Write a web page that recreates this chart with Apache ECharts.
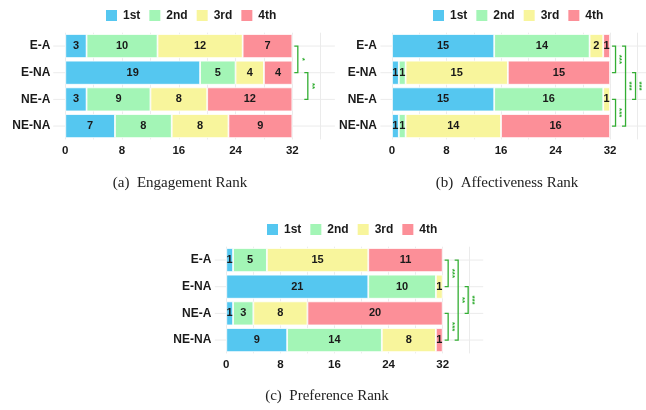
<!DOCTYPE html>
<html><head><meta charset="utf-8">
<script src="https://cdn.jsdelivr.net/npm/echarts@6/dist/echarts.min.js"></script>
<style>html,body{margin:0;padding:0;background:#fff}#c{width:646px;height:410px}</style>
</head><body><div id="c"></div>
<script>
// ---- data ----
const categories = ['E-A', 'E-NA', 'NE-A', 'NE-NA'];
const ranks = ['1st', '2nd', '3rd', '4th'];
const xTicks = [0, 8, 16, 24, 32];

// values per rank, ordered like categories
const engagement1st = [3, 19, 3, 7];
const engagement2nd = [10, 5, 9, 8];
const engagement3rd = [12, 4, 8, 8];
const engagement4th = [7, 4, 12, 9];

const affect1st = [15, 1, 15, 1];
const affect2nd = [14, 1, 16, 1];
const affect3rd = [2, 15, 1, 14];
const affect4th = [1, 15, 0, 16];

const pref1st = [1, 21, 1, 9];
const pref2nd = [5, 10, 3, 14];
const pref3rd = [15, 1, 8, 8];
const pref4th = [11, 0, 20, 1];

// significance brackets: [fromCategoryIndex, toCategoryIndex, level, stars]
const engagementSig = [[0, 1, 0, '*'], [1, 2, 1, '**']];
const affectSig = [[0, 1, 0, '***'], [2, 3, 0, '***'], [0, 3, 1, '***'], [1, 2, 2, '***']];
const prefSig = [[0, 1, 0, '***'], [2, 3, 0, '***'], [0, 3, 1, '**'], [1, 2, 2, '***']];

const captions = ['(a)  Engagement Rank', '(b)  Affectiveness Rank', '(c)  Preference Rank'];

// ---- styling / layout ----
const colors = ['#55C7F0', '#A3F5B6', '#F8F59C', '#FC8F98'];
const sigColor = '#33AE33';
const gridColor = '#EBEBEB';
const sans = 'Liberation Sans, Arial, sans-serif';
const textDark = '#1a1a1a';

const panels = [
  { values: [engagement1st, engagement2nd, engagement3rd, engagement4th], sig: engagementSig,
    grid: { left: 65.3, top: 32.7, width: 255.4, height: 106.7 }, legend: { left: 106, top: 9.5 },
    cap: { x: 180, y: 183.5 }, panelX: [-1.7, 38] },
  { values: [affect1st, affect2nd, affect3rd, affect4th], sig: affectSig,
    grid: { left: 392, top: 32.7, width: 245.3, height: 106.7 }, legend: { left: 433, top: 9.5 },
    cap: { x: 507, y: 183.5 }, panelX: [-1.7, 38] },
  { values: [pref1st, pref2nd, pref3rd, pref4th], sig: prefSig,
    grid: { left: 226.3, top: 246.7, width: 243.4, height: 106.7 }, legend: { left: 267, top: 223.5 },
    cap: { x: 327, y: 396.5 }, panelX: [-1.7, 38] }
];

const grids = [], xAxes = [], yAxes = [], legends = [], series = [], graphics = [];
panels.forEach((p, pi) => {
  grids.push(Object.assign({ containLabel: false }, p.grid));
  xAxes.push({
    gridIndex: pi, type: 'value', min: 0, max: 36, interval: 4,
    axisLine: { show: false }, axisTick: { show: false },
    splitLine: { show: true, lineStyle: { color: gridColor, width: 1 } },
    axisLabel: {
      formatter: v => (xTicks.indexOf(v) >= 0 ? String(v) : ''),
      fontSize: 11.5, fontWeight: 'bold', color: textDark, fontFamily: sans, margin: 5
    }
  });
  yAxes.push({
    gridIndex: pi, type: 'category', data: categories, inverse: true,
    axisLine: { show: false }, axisTick: { show: false },
    splitLine: { show: false },
    axisLabel: { fontSize: 12, fontWeight: 'bold', color: textDark, fontFamily: sans, margin: 15 }
  });
  legends.push({
    left: p.legend.left, top: p.legend.top, data: ranks, icon: 'rect',
    itemWidth: 11, itemHeight: 11, itemGap: 9, padding: 0,
    itemStyle: { borderWidth: 0 }, selectedMode: false,
    textStyle: { fontSize: 12, fontWeight: 'bold', color: textDark, fontFamily: sans, padding: [0, 0, 0, 1] }
  });
  // horizontal panel grid lines at category centres
  series.push({
    type: 'custom', xAxisIndex: pi, yAxisIndex: pi, clip: false, silent: true, animation: false, z: 1,
    data: categories.map((c, i) => [0, i]), encode: { x: 0, y: 1 },
    renderItem: (params, api) => {
      const a = api.coord([p.panelX[0], api.value(1)]);
      const b = api.coord([p.panelX[1], api.value(1)]);
      return { type: 'line', shape: { x1: a[0], y1: a[1], x2: b[0], y2: b[1] },
               style: { stroke: gridColor, lineWidth: 1 } };
    }
  });
  ranks.forEach((r, ri) => {
    series.push({
      type: 'bar', name: r, stack: 'stack' + pi, xAxisIndex: pi, yAxisIndex: pi, z: 3,
      barCategoryGap: '10%',
      data: p.values[ri].map(v => (v > 0 ? v : null)),
      itemStyle: { color: colors[ri], borderColor: '#ffffff', borderWidth: 0.8 },
      label: {
        show: true, position: 'inside', formatter: d => (d.value > 0 ? String(d.value) : ''),
        fontSize: 11, fontWeight: 'bold', color: textDark, fontFamily: sans
      },
      emphasis: { disabled: true }, animation: false
    });
  });
  const sig = p.sig;
  const total = xTicks[xTicks.length - 1];
  series.push({
    type: 'custom', xAxisIndex: pi, yAxisIndex: pi, clip: false, silent: true, animation: false, z: 4,
    data: sig.map(s => [total, s[0]]), encode: { x: 0, y: 1 },
    renderItem: (params, api) => {
      const s = sig[params.dataIndex];
      const a = api.coord([total, s[0]]);
      const b = api.coord([total, s[1]]);
      const x = a[0] + 5.5 + s[2] * 10;
      const tick = 3.5;
      return {
        type: 'group',
        children: [
          { type: 'polyline', shape: { points: [[x - tick, a[1]], [x, a[1]], [x, b[1]], [x - tick, b[1]]] },
            style: { stroke: sigColor, lineWidth: 1.3, fill: null } },
          { type: 'text', x: x + 4, y: (a[1] + b[1]) / 2, rotation: -Math.PI / 2,
            style: { text: s[3], fill: sigColor, fontSize: 8, fontWeight: 'bold', fontFamily: sans,
                     align: 'center', verticalAlign: 'middle' } }
        ]
      };
    }
  });
  graphics.push({
    type: 'text', x: p.cap.x, y: p.cap.y,
    style: { text: captions[pi], fill: '#222', font: '15px "Liberation Serif", serif',
             align: 'center', verticalAlign: 'middle' }
  });
});

const chart = echarts.init(document.getElementById('c'), null, { renderer: 'canvas' });
chart.setOption({
  backgroundColor: '#ffffff',
  animation: false,
  grid: grids, xAxis: xAxes, yAxis: yAxes, legend: legends, series: series,
  graphic: graphics
});
</script></body></html>
